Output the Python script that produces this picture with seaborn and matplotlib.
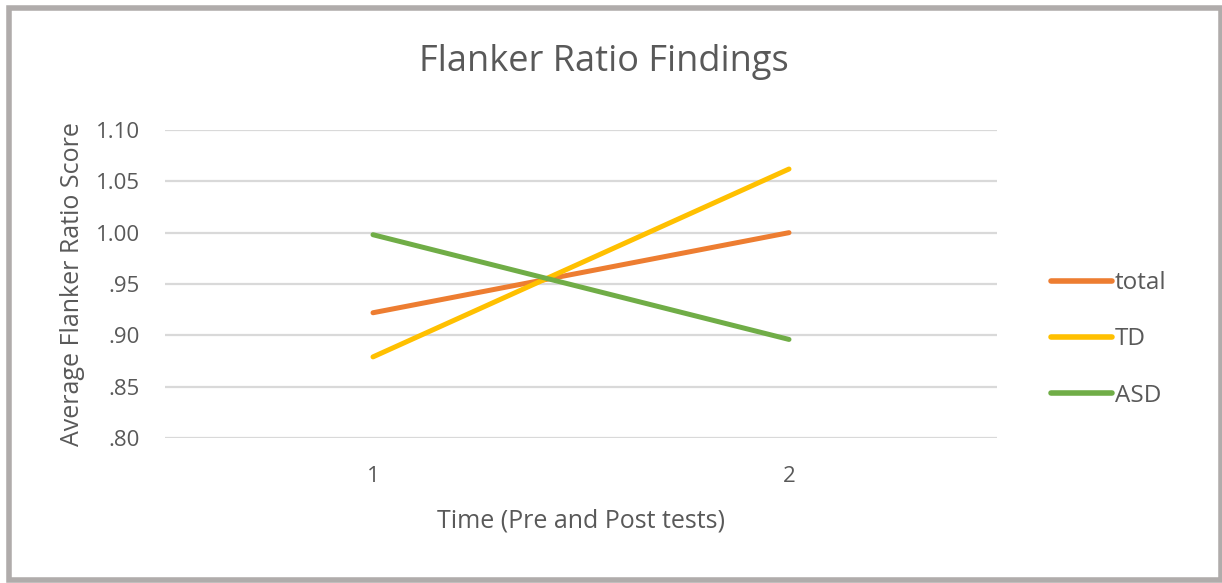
import pandas as pd
import seaborn as sns
import matplotlib.pyplot as plt
from matplotlib.patches import Rectangle

# values
times = [1, 2]
total = [0.922, 1.000]
td = [0.879, 1.062]
asd = [0.998, 0.896]
groups = ["total", "TD", "ASD"]
colors = ["#ED7D31", "#FFC000", "#70AD47"]

df = pd.DataFrame({
    "time": times * 3,
    "score": total + td + asd,
    "group": [g for g in groups for _ in times],
})

sns.set_theme(style="white")
plt.rcParams["font.family"] = ["Open Sans", "DejaVu Sans"]
txt = "#595959"

fig = plt.figure(figsize=(12.22, 5.83), dpi=100)
ax = fig.add_axes([165 / 1222, 1 - 438 / 583, (997 - 165) / 1222, (438 - 130) / 583])

sns.lineplot(data=df, x="time", y="score", hue="group", hue_order=groups,
             palette=colors, linewidth=3.6, ax=ax, solid_capstyle="round")

ax.set_xlim(0.5, 2.5)
ax.set_ylim(0.80, 1.10)
ax.set_xticks(times)
ax.set_xticklabels(["1", "2"])
yt = [0.80, 0.85, 0.90, 0.95, 1.00, 1.05, 1.10]
ax.set_yticks(yt)
ax.set_yticklabels([".80", ".85", ".90", ".95", "1.00", "1.05", "1.10"])
ax.grid(axis="y", color="#d9d9d9", linewidth=1.6)
ax.set_axisbelow(True)
for s in ax.spines.values():
    s.set_visible(False)
ax.tick_params(axis="both", length=0, labelsize=16, labelcolor=txt)
ax.tick_params(axis="y", pad=18)
ax.tick_params(axis="x", pad=20)

ax.set_xlabel("Time (Pre and Post tests)", fontsize=18, color=txt, labelpad=16)
ax.set_ylabel("Average Flanker Ratio Score", fontsize=18, color=txt, labelpad=8)
fig.text(604 / 1222, 1 - 62 / 583, "Flanker Ratio Findings", fontsize=26,
         color=txt, ha="center", va="center")

leg = ax.legend(loc="center left", bbox_to_anchor=(1.039, 0.32), frameon=False,
                fontsize=17.5, labelspacing=1.33, handlelength=2.5, handletextpad=0.1,
                labelcolor=txt)
for line in leg.get_lines():
    line.set_linewidth(4)

# outer border
fig.patches.append(Rectangle((9 / 1222, 3 / 583), 1212 / 1222, 572 / 583,
                             transform=fig.transFigure, fill=False,
                             edgecolor="#b0acab", linewidth=4))

plt.savefig("out.png", dpi=100)
